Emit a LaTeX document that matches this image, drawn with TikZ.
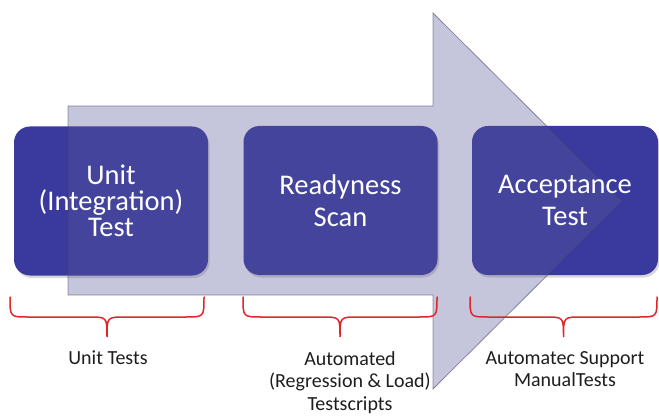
\documentclass[tikz,border=0pt]{standalone}
\usepackage{fontspec}
\setmainfont{Carlito}
\usetikzlibrary{shadows}

\definecolor{stageblue}{RGB}{58,58,158}
\definecolor{arrowblue}{RGB}{89,89,156}
\definecolor{braceRed}{RGB}{222,38,38}
\definecolor{labelgray}{RGB}{30,30,30}

% curly bracket under a stage: left x, right x
\newcommand{\stagebrace}[2]{%
  \pgfmathsetmacro\braceMid{(#1+#2)/2}
  \draw[stagebracket] (#1,297) .. controls (#1,317) .. (#1+18,317)
    -- (\braceMid-18,317) .. controls (\braceMid,317) .. (\braceMid,337)
    .. controls (\braceMid,317) .. (\braceMid+18,317)
    -- (#2-18,317) .. controls (#2,317) .. (#2,297);
}

\begin{document}
\begin{tikzpicture}[x=1pt, y=-1pt,
  stagebox/.style={fill=stageblue, rounded corners=16pt, inner sep=0pt,
    minimum width=194pt, minimum height=149pt,
    drop shadow={shadow xshift=1.5pt, shadow yshift=-2.5pt, opacity=0.3}},
  stagetext/.style={align=center, text=white, inner sep=0pt,
    font=\fontsize{28.5}{32}\selectfont},
  stagebracket/.style={draw=braceRed, line width=1.5pt, line cap=round},
  stagelabel/.style={anchor=north, inner sep=0pt, align=center, text=labelgray,
    font=\fontsize{20}{22.5}\selectfont}]
\useasboundingbox (0,0) rectangle (659,417);
\fill[white] (0,0) rectangle (659,417);

% the three stages
\node[stagebox] (unit) at (111,201) {};
\node[stagebox] (ready) at (340.5,200.5) {};
\node[stagebox, minimum width=186pt] (accept) at (565,200.5) {};

% big arrow laid over the stages
\path[fill=arrowblue, fill opacity=0.35, draw=arrowblue!70!black,
  draw opacity=0.55, line width=0.8pt, line join=miter]
  (68,106) -- (433,106) -- (433,13) -- (622,201) -- (433,389)
  -- (433,295) -- (68,295) -- cycle;

% stage names on top of the arrow
\node[stagetext, font=\fontsize{28.5}{26}\selectfont] (unitname) at (unit)
  {Unit\\(Integration)\\Test};
\node[stagetext] (readyname) at (ready) {Readyness\\Scan};
\node[stagetext] (acceptname) at (accept) {Acceptance\\Test};

% brackets
\stagebrace{10}{204}
\stagebrace{243}{437}
\stagebrace{470}{657}

% what each stage covers
\node[stagelabel] (unitlbl) at (108,351) {Unit Tests};
\node[stagelabel] (readylbl) at (350,351)
  {Automated\\(Regression \& Load)\\Testscripts};
\node[stagelabel] (acceptlbl) at (565,351) {Automatec Support\\ManualTests};
\end{tikzpicture}
\end{document}
